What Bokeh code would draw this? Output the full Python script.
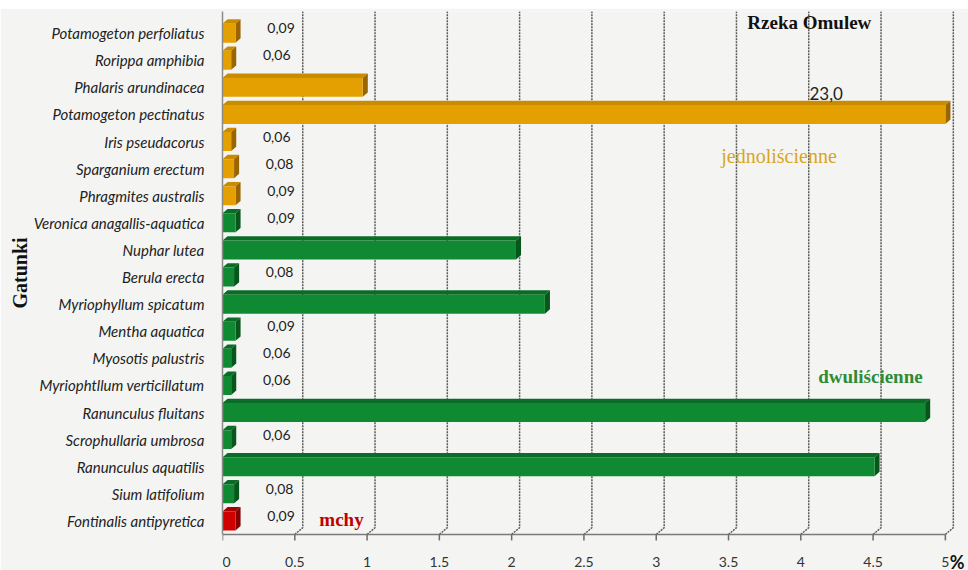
import math
from bokeh.plotting import figure
from bokeh.models import (ColumnDataSource, Range1d, FixedTicker,
                          CustomJSTickFormatter, Label, Title)
from bokeh.core.properties import value
from bokeh.embed import file_html
from bokeh.resources import INLINE

# ---------------- data ----------------
species = [
    "Potamogeton perfoliatus", "Rorippa amphibia", "Phalaris arundinacea",
    "Potamogeton pectinatus", "Iris pseudacorus", "Sparganium erectum",
    "Phragmites australis", "Veronica anagallis-aquatica", "Nuphar lutea",
    "Berula erecta", "Myriophyllum spicatum", "Mentha aquatica",
    "Myosotis palustris", "Myriophtllum verticillatum", "Ranunculus fluitans",
    "Scrophullaria umbrosa", "Ranunculus aquatilis", "Sium latifolium",
    "Fontinalis antipyretica",
]
values = [0.09, 0.06, 0.97, 23.0, 0.06, 0.08, 0.09, 0.09, 2.03, 0.08, 2.23,
          0.09, 0.06, 0.06, 4.86, 0.06, 4.51, 0.08, 0.09]
value_labels = ["0,09", "0,06", "", "23,0", "0,06", "0,08", "0,09", "0,09", "",
                "0,08", "", "0,09", "0,06", "0,06", "", "0,06", "", "0,08", "0,09"]
groups = ["jednoliścienne"] * 7 + ["dwuliścienne"] * 11 + ["mchy"]
group_names = ["jednoliścienne", "dwuliścienne", "mchy"]
x_ticks = [0, 0.5, 1, 1.5, 2, 2.5, 3, 3.5, 4, 4.5, 5]
x_tick_labels = ["0", "0.5", "1", "1.5", "2", "2.5", "3", "3.5", "4", "4.5", "5"]
title_text = "Rzeka Omulew"
y_title = "Gatunki"
unit_text = "%"

# ---------------- styles ----------------
AXIS_MAX = 5.0
BG = "#f4f5f3"
front_col = {"jednoliścienne": "#e3a000", "dwuliścienne": "#0f8a32", "mchy": "#d00000"}
side_col = {"jednoliścienne": "#9a6400", "dwuliścienne": "#07561c", "mchy": "#860000"}
top_col = {"jednoliścienne": "#c98c00", "dwuliścienne": "#0b6c27", "mchy": "#a80000"}
text_col = {"jednoliścienne": "#d9a520", "dwuliścienne": "#2e8b34", "mchy": "#c00000"}
BAR_H = 0.7
DX = 0.035   # bar depth (x, data units)
DY = 0.16    # bar depth (y, row units)
GX = 0.055   # grid wall offset
Y_TOP_PAD = 0.3
Y_BOTTOM = -1.33
TICK_LEN = 0.22
TICK_LABEL_Y = -1.0

n = len(species)
shown = [min(v, AXIS_MAX) for v in values]
ynum = [n - i - 0.5 for i in range(n)]   # row positions, first species on top

p = figure(width=968, height=562, margin=(8, 0, 0, 0),
           y_range=Range1d(Y_BOTTOM, n + Y_TOP_PAD),
           x_range=Range1d(0, AXIS_MAX + 0.16),
           x_axis_location=None,
           output_backend="svg", toolbar_location=None,
           min_border_left=222, min_border_right=0,
           min_border_top=3, min_border_bottom=0,
           background_fill_color=BG, border_fill_color=BG,
           outline_line_color=None)
p.xgrid.visible = False
p.ygrid.visible = False

# grid walls
gx, gy = [], []
for t in x_ticks[1:]:
    gx.append([t, t + GX, t + GX])
    gy.append([0, 0.25, n + 1])
p.multi_line(gx, gy, line_color="#5a5a5a", line_width=1.5, line_dash="2 1")

# x axis (drawn in the frame)
p.segment(x0=[x_ticks[0]], y0=[0], x1=[x_ticks[-1]], y1=[0],
          line_color="#7a7a7a", line_width=1.5)
p.segment(x0=x_ticks, y0=[0] * len(x_ticks), x1=x_ticks,
          y1=[-TICK_LEN] * len(x_ticks), line_color="#6a6a6a", line_width=1.5)
tick_src = ColumnDataSource(dict(
    x=x_ticks, y=[TICK_LABEL_Y] * len(x_ticks), t=x_tick_labels,
    a=["left" if t == x_ticks[0] else "center" for t in x_ticks],
))
p.text(x="x", y="y", text="t", text_align="a", source=tick_src,
       text_font=value("Lato"), text_font_size="14px", text_color="#333333",
       text_baseline="middle")
p.text(x=[AXIS_MAX + 0.03], y=[TICK_LABEL_Y], text=[unit_text],
       text_font=value("Lato"), text_font_style="bold", text_font_size="18px",
       text_color="#111111", text_align="left", text_baseline="middle")

# bars (3D look)
src = ColumnDataSource(dict(
    species=species, shown=shown, ynum=ynum,
    front=[front_col[g] for g in groups],
))
top_xs, top_ys, side_xs, side_ys, top_c, side_c = [], [], [], [], [], []
for v, yc, g in zip(shown, ynum, groups):
    y0, y1 = yc - BAR_H / 2, yc + BAR_H / 2
    top_xs.append([0, DX, v + DX, v]); top_ys.append([y1, y1 + DY, y1 + DY, y1])
    side_xs.append([v, v + DX, v + DX, v]); side_ys.append([y0, y0 + DY, y1 + DY, y1])
    top_c.append(top_col[g]); side_c.append(side_col[g])
p.patches(top_xs, top_ys, fill_color=top_c, line_color=None)
p.patches(side_xs, side_ys, fill_color=side_c, line_color=None)
p.hbar(y="ynum", left=0, right="shown", height=BAR_H, fill_color="front",
       line_color=None, source=src)

# value labels
small = [i for i, v in enumerate(values) if v < 0.5 and value_labels[i]]
lab_src = ColumnDataSource(dict(
    x=[values[i] + 0.22 for i in small],
    y=[ynum[i] for i in small],
    t=[value_labels[i] for i in small],
))
p.text(x="x", y="y", text="t", source=lab_src, text_font=value("Lato"),
       text_font_size="14px", text_color="#222222", text_align="left",
       text_baseline="middle", y_offset=-5)
for i, v in enumerate(values):
    if v > AXIS_MAX:
        p.add_layout(Label(x=4.06, y=ynum[i] + 0.78,
                           text=value_labels[i], text_font="Lato",
                           text_font_size="17px", text_color="#222222",
                           text_baseline="middle"))

# annotations
p.add_layout(Label(x=3.63, y=n - 0.12, text=title_text,
                   text_font="Liberation Serif", text_font_style="bold",
                   text_font_size="19px", text_color="#111111",
                   text_baseline="middle"))
ann_pos = {"jednoliścienne": (3.45, 13.98, "normal", "20px"),
           "dwuliścienne": (4.12, 5.83, "bold", "19px"),
           "mchy": (0.67, 0.55, "bold", "19px")}
for g in group_names:
    x, y, st, fs = ann_pos[g]
    p.add_layout(Label(x=x, y=y, text=g,
                       text_font="Liberation Serif", text_font_style=st,
                       text_font_size=fs, text_color=text_col[g],
                       text_baseline="middle"))
p.add_layout(Title(text=y_title, align="left", offset=262, standoff=0,
                   text_font="Liberation Serif", text_font_style="bold",
                   text_font_size="20px", text_color="#111111"), "left")

# y axis
ya = p.yaxis[0]
ya.ticker = FixedTicker(ticks=ynum)
ya.formatter = CustomJSTickFormatter(
    args=dict(tv=ynum, tl=species),
    code="let b = 0; for (let i = 0; i < tv.length; i++) { if (Math.abs(tv[i] - tick) < Math.abs(tv[b] - tick)) b = i; } return tl[b];")
ya.bounds = (0, n + Y_TOP_PAD)
ya.axis_line_color = "#8a8a8a"
ya.axis_line_width = 1.5
ya.major_tick_line_color = None
ya.minor_tick_line_color = None
ya.major_label_standoff = 12
ya.major_label_text_font = "Lato"
ya.major_label_text_font_style = "italic"
ya.major_label_text_font_size = "15px"
ya.major_label_text_color = "#222222"

open("out.html", "w").write(file_html(p, INLINE))
